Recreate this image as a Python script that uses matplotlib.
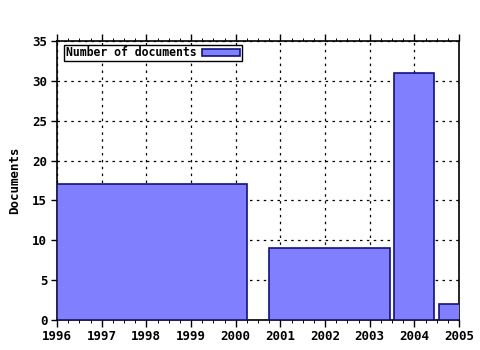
import matplotlib
matplotlib.use("Agg")
import matplotlib.pyplot as plt
from matplotlib.ticker import AutoMinorLocator

# Data: bar spans (start year, end year) and heights
bar_starts = [1996.0, 2000.75, 2003.55, 2004.55]
bar_ends = [2000.25, 2003.46, 2004.44, 2005.3]
doc_counts = [17, 9, 31, 2]
year_ticks = list(range(1996, 2006))
y_ticks = [0, 5, 10, 15, 20, 25, 30, 35]
series_label = "Number of documents"

plt.rcParams['font.family'] = ['DejaVu Sans Mono']
plt.rcParams['font.weight'] = 'bold'

fig = plt.figure(figsize=(4.8, 3.5), dpi=100)
ax = fig.add_axes([57/480, 1-320/350, (459-57)/480, (320-41)/350])

widths = [e - s for s, e in zip(bar_starts, bar_ends)]
ax.bar(bar_starts, doc_counts, width=widths, align='edge',
       color='#8080ff', edgecolor='#10108a', linewidth=1.2,
       label=series_label, zorder=3)

ax.set_xlim(1996, 2005)
ax.set_ylim(0, 35)
ax.set_xticks(year_ticks)
ax.set_xticklabels([str(y) for y in year_ticks], fontsize=9, fontweight='bold')
ax.set_yticks(y_ticks)
ax.set_yticklabels([str(v) for v in y_ticks], fontsize=9, fontweight='bold')
ax.xaxis.set_minor_locator(AutoMinorLocator(4))

ax.grid(True, which='major', color='black', linestyle=(0, (2, 3.5)), linewidth=0.9, zorder=1)
ax.tick_params(axis='x', which='both', direction='out', top=True, bottom=True, pad=2)
ax.tick_params(axis='x', which='major', length=5, width=1)
ax.tick_params(axis='x', which='minor', length=2, width=0.7)
ax.tick_params(axis='y', which='major', direction='out', left=True, right=False, length=4, width=1, pad=3)

for s in ax.spines.values():
    s.set_linewidth(1.2)
    s.set_color('black')

ax.set_ylabel("Documents", fontsize=9, fontweight='bold', labelpad=8)

leg = ax.legend(loc='upper left', bbox_to_anchor=(0.012, 0.995), frameon=True,
                fancybox=False, edgecolor='black', framealpha=1,
                prop={'size': 8.3, 'weight': 'bold'}, markerfirst=False,
                handlelength=3.3, handleheight=0.55, borderpad=0.15,
                handletextpad=0.5, borderaxespad=0.2)
leg.get_frame().set_linewidth(1.0)

fig.savefig("out.png", dpi=100)
